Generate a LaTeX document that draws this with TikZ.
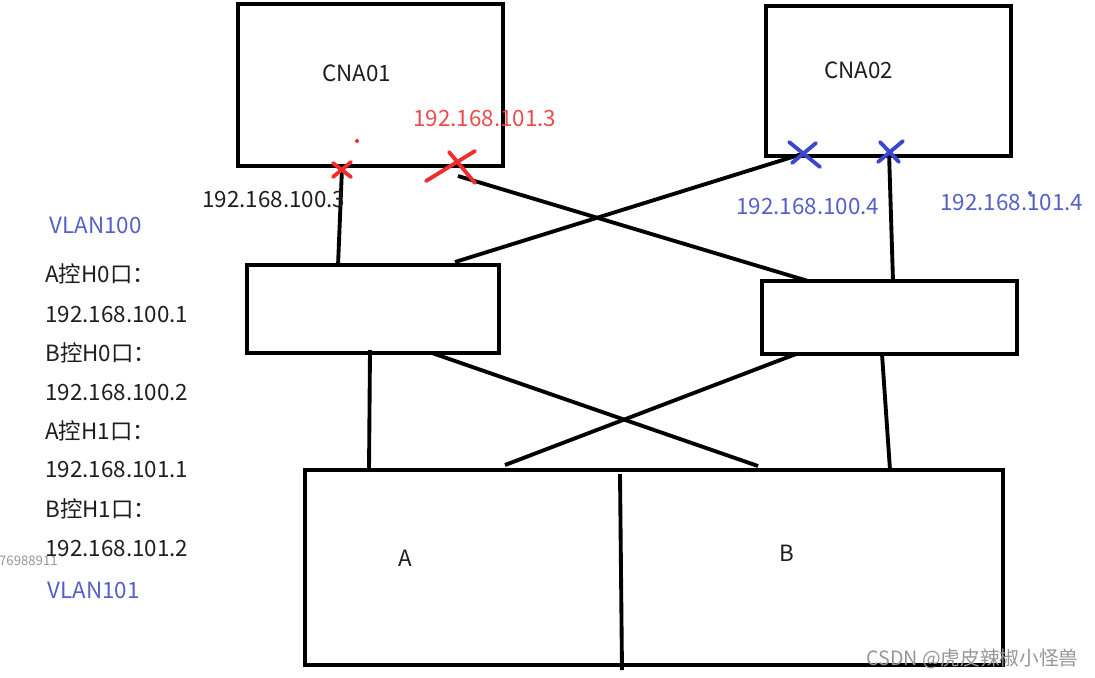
\documentclass[tikz,border=0pt]{standalone}
\usepackage{fontspec}
\setmainfont{Noto Sans CJK SC}
\usetikzlibrary{fit}
\definecolor{redx}{RGB}{240,45,45}
\definecolor{redt}{RGB}{235,75,75}
\definecolor{bluex}{RGB}{60,70,205}
\definecolor{bluet}{RGB}{85,95,200}
\definecolor{txt}{RGB}{30,30,30}
\definecolor{wm}{RGB}{150,150,150}
\tikzset{
  box/.style={draw=black, line width=2.3pt, inner sep=0pt},
  wire/.style={draw=black, line width=2.2pt},
  lbl/.style={font=\fontsize{12.75}{15}\selectfont, inner sep=0pt, anchor=base west, text=txt},
  xmark/.style={line width=2.2pt, line cap=round},
}
\begin{document}
\begin{tikzpicture}[x=0.02cm, y=-0.02cm]
\useasboundingbox (0,0) rectangle (1095,677);
% boxes
\node[box, fit={(238,4) (503,166)}] (cna1) {};
\node[box, fit={(766,6) (1011,156)}] (cna2) {};
\node[box, fit={(247,265) (499,353)}] (sw1) {};
\node[box, fit={(762,281) (1017,354)}] (sw2) {};
\node[box, fit={(305,470) (1003,665)}] (stor) {};
\coordinate (divt) at (620,474);
\coordinate (divb) at (622,670);
\draw[wire] (divt) -- (divb);
% box texts
\node[lbl] (t1) at (322,81) {CNA01};
\node[lbl] (t2) at (824,78) {CNA02};
\node[lbl] (tA) at (398,566) {A};
\node[lbl] (tB) at (779,561) {B};
% port coordinates
\coordinate (c1a) at (342,168);
\coordinate (s1a) at (338,266);
\coordinate (c1b) at (458,176);
\coordinate (s2a) at (808,281);
\coordinate (c2a) at (802,154);
\coordinate (s1b) at (455,262);
\coordinate (c2b) at (889,152);
\coordinate (s2b) at (893,281);
\coordinate (s1c) at (370,350);
\coordinate (ba) at (369,470);
\coordinate (s1d) at (432,353);
\coordinate (bb) at (758,466);
\coordinate (s2c) at (796,354);
\coordinate (bc) at (505,465);
\coordinate (s2d) at (882,354);
\coordinate (bd) at (890,470);
\draw[wire] (c1a) -- (s1a);
\draw[wire] (c1b) -- (s2a);
\draw[wire] (c2a) -- (s1b);
\draw[wire] (c2b) -- (s2b);
\draw[wire] (s1c) -- (ba);
\draw[wire] (s1d) -- (bb);
\draw[wire] (s2c) -- (bc);
\draw[wire] (s2d) -- (bd);
% crosses
\draw[xmark, redx] (333,163) -- (351,177) (333,177) -- (351,162);
\draw[xmark, redx] (426,181) -- (475,151) (449,152) -- (475,183);
\draw[xmark, bluex] (789,142) -- (820,167) (792,163) -- (816,143);
\draw[xmark, bluex] (878,162) -- (903,141) (880,142) -- (899,162);
\fill[redx] (357,141) circle (2);
\fill[bluet] (1030,193) circle (2);
% port labels
\node[lbl, text=redt] (ip1013) at (413,126) {192.168.101.3};
\node[lbl] (ip1003) at (202,207) {192.168.100.3};
\node[lbl, text=bluet] (ip1004) at (736,214) {192.168.100.4};
\node[lbl, text=bluet] (ip1014) at (940,210) {192.168.101.4};
% left legend
\node[lbl, text=bluet] (v100) at (49,233) {VLAN100};
\node[lbl] (l1) at (45,282) {A控H0口：};
\node[lbl] (l2) at (45,322) {192.168.100.1};
\node[lbl] (l3) at (45,361) {B控H0口：};
\node[lbl] (l4) at (45,400) {192.168.100.2};
\node[lbl] (l5) at (45,439) {A控H1口：};
\node[lbl] (l6) at (45,477) {192.168.101.1};
\node[lbl] (l7) at (45,517) {B控H1口：};
\node[lbl] (l8) at (45,556) {192.168.101.2};
\node[lbl, text=bluet] (v101) at (47,598) {VLAN101};
% watermarks
\node[lbl, text=wm, font=\fontsize{7.5}{8}\selectfont, anchor=base east] (wm1) at (58,565) {76988911};
\node[lbl, text=wm, font=\fontsize{11.2}{12}\selectfont, anchor=base east] (wm2) at (1079,665) {CSDN @虎皮辣椒小怪兽};
\end{tikzpicture}
\end{document}
